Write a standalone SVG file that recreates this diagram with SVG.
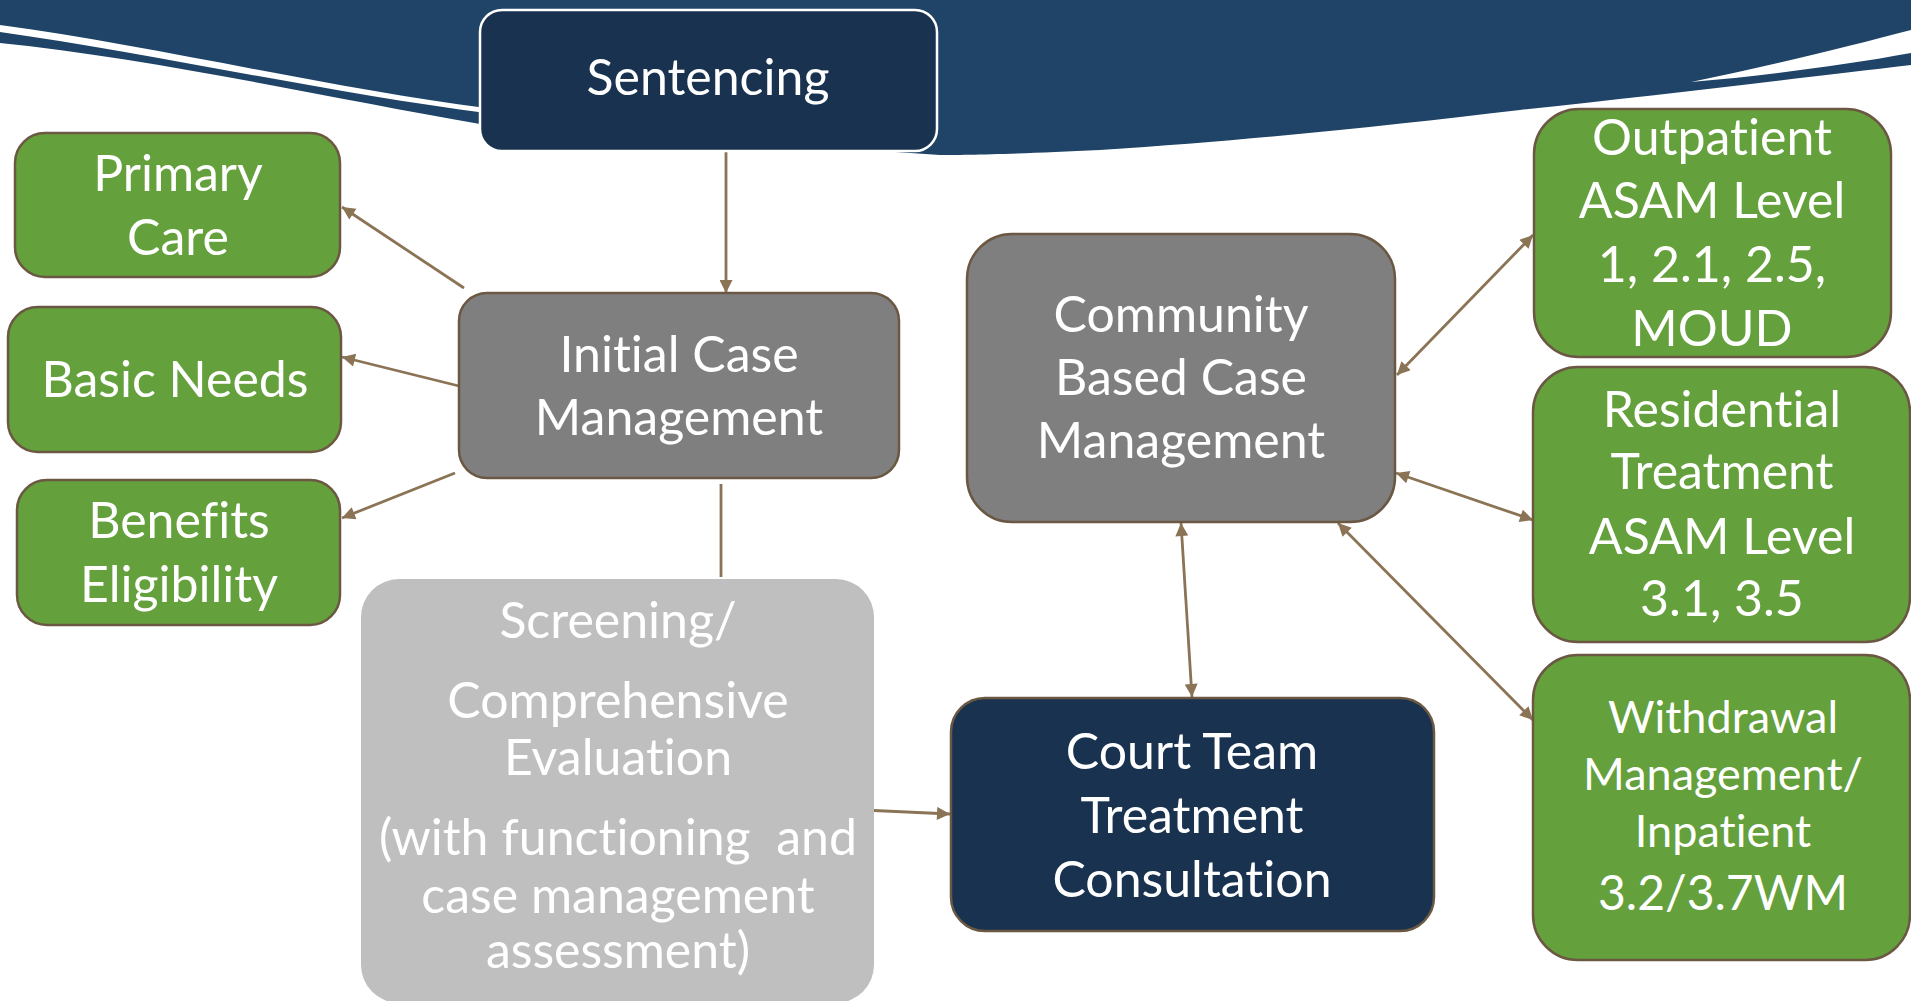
<svg xmlns="http://www.w3.org/2000/svg" width="1911" height="1001" viewBox="0 0 1911 1001">
  <style>
    .lbl { font-family: Lato, "Open Sans", "Liberation Sans", sans-serif; font-size: 50px; fill: #ffffff; text-anchor: middle; font-variant-ligatures: none; font-feature-settings: "liga" 0, "clig" 0; }
    .green { fill: #64a03b; stroke: #6b5843; stroke-width: 2.5; }
    .grey { fill: #7f7f7f; stroke: #6b5843; stroke-width: 2.5; }
    .navy { fill: #18324f; stroke: #6b5843; stroke-width: 2.5; }
    .light { fill: #bfbfbf; }
    .conn { stroke: #8b7355; stroke-width: 2.8; fill: none; }
  </style>
  <defs>
    <marker id="head" viewBox="0 0 10 10" refX="10" refY="5" markerWidth="17" markerHeight="13" markerUnits="userSpaceOnUse" orient="auto-start-reverse">
      <path d="M0,0 L10,5 L0,10 z" fill="#8b7355"/>
    </marker>
  </defs>

  <rect width="1911" height="1001" fill="#ffffff"/>

  <!-- header swoosh -->
  <g id="header">
    <path d="M0,0 H1911 V65 C1800,78 1650,96 1520,110 C1400,124 1260,140 1100,150 C1020,154 960,155 940,155 L480,124 C330,98 150,58 0,43 Z" fill="#1f4468"/>
    <path d="M0,25 C150,45 330,88 486,108 L486,113 C330,93 150,53 0,32 Z" fill="#ffffff"/>
    <path d="M1691,82 C1770,66 1850,46 1911,30 L1911,53 C1840,66 1760,76 1691,82 Z" fill="#ffffff"/>
  </g>

  <!-- connectors -->
  <g id="connectors" class="conn">
    <line x1="726" y1="152" x2="726" y2="293" marker-end="url(#head)"/>
    <line x1="464" y1="288" x2="342" y2="207" marker-end="url(#head)"/>
    <line x1="459" y1="386" x2="342" y2="357" marker-end="url(#head)"/>
    <line x1="455" y1="473" x2="342" y2="518" marker-end="url(#head)"/>
    <line x1="721" y1="484" x2="721" y2="577"/>
    <line x1="863" y1="810" x2="950" y2="814" marker-end="url(#head)"/>
    <line x1="1397" y1="375" x2="1533" y2="235" marker-start="url(#head)" marker-end="url(#head)"/>
    <line x1="1396" y1="473" x2="1533" y2="520" marker-start="url(#head)" marker-end="url(#head)"/>
    <line x1="1338" y1="523" x2="1533" y2="720" marker-start="url(#head)" marker-end="url(#head)"/>
    <line x1="1181" y1="523" x2="1192" y2="697" marker-start="url(#head)" marker-end="url(#head)"/>
  </g>

  <g id="sentencing">
    <rect x="480" y="10" width="457" height="141" rx="22" fill="#18324f" stroke="#ffffff" stroke-width="2.5"/>
    <text class="lbl" x="708" y="95">Sentencing</text>
  </g>

  <g id="primary-care">
    <rect class="green" x="15" y="133" width="325" height="144" rx="30"/>
    <text class="lbl" x="178" y="191">Primary</text>
    <text class="lbl" x="178" y="255">Care</text>
  </g>

  <g id="basic-needs">
    <rect class="green" x="8" y="307" width="333" height="145" rx="30"/>
    <text class="lbl" x="175" y="397">Basic Needs</text>
  </g>

  <g id="benefits-eligibility">
    <rect class="green" x="17" y="480" width="323" height="145" rx="30"/>
    <text class="lbl" x="179" y="538">Benefits</text>
    <text class="lbl" x="179" y="602">Eligibility</text>
  </g>

  <g id="initial-case-management">
    <rect class="grey" x="459" y="293" width="440" height="185" rx="28"/>
    <text class="lbl" x="679" y="372">Initial Case</text>
    <text class="lbl" x="679" y="435">Management</text>
  </g>

  <g id="screening">
    <rect class="light" x="361" y="579" width="513" height="424" rx="38"/>
    <text class="lbl" x="618" y="638">Screening/</text>
    <text class="lbl" x="618" y="718">Comprehensive</text>
    <text class="lbl" x="618" y="775">Evaluation</text>
    <text class="lbl" x="618" y="855" xml:space="preserve">(with functioning  and</text>
    <text class="lbl" x="618" y="913">case management</text>
    <text class="lbl" x="618" y="968">assessment)</text>
  </g>

  <g id="community-case-management">
    <rect class="grey" x="967" y="234" width="428" height="288" rx="45"/>
    <text class="lbl" x="1181" y="332">Community</text>
    <text class="lbl" x="1181" y="395">Based Case</text>
    <text class="lbl" x="1181" y="458">Management</text>
  </g>

  <g id="court-team">
    <rect class="navy" x="951" y="698" width="483" height="233" rx="34"/>
    <text class="lbl" x="1192" y="769">Court Team</text>
    <text class="lbl" x="1192" y="833">Treatment</text>
    <text class="lbl" x="1192" y="897">Consultation</text>
  </g>

  <g id="outpatient">
    <rect class="green" x="1534" y="109" width="357" height="248" rx="45"/>
    <text class="lbl" x="1712" y="155">Outpatient</text>
    <text class="lbl" x="1712" y="218">ASAM Level</text>
    <text class="lbl" x="1712" y="282">1, 2.1, 2.5,</text>
    <text class="lbl" x="1712" y="346">MOUD</text>
  </g>

  <g id="residential">
    <rect class="green" x="1533" y="367" width="377" height="275" rx="45"/>
    <text class="lbl" x="1722" y="427">Residential</text>
    <text class="lbl" x="1722" y="489">Treatment</text>
    <text class="lbl" x="1722" y="554">ASAM Level</text>
    <text class="lbl" x="1722" y="616">3.1, 3.5</text>
  </g>

  <g id="withdrawal">
    <rect class="green" x="1533" y="655" width="377" height="305" rx="45"/>
    <text class="lbl" x="1723" y="733" style="font-size:45px">Withdrawal</text>
    <text class="lbl" x="1723" y="790" style="font-size:45px">Management/</text>
    <text class="lbl" x="1723" y="847" style="font-size:45px">Inpatient</text>
    <text class="lbl" x="1723" y="910" style="font-size:48px">3.2/3.7WM</text>
  </g>
</svg>
